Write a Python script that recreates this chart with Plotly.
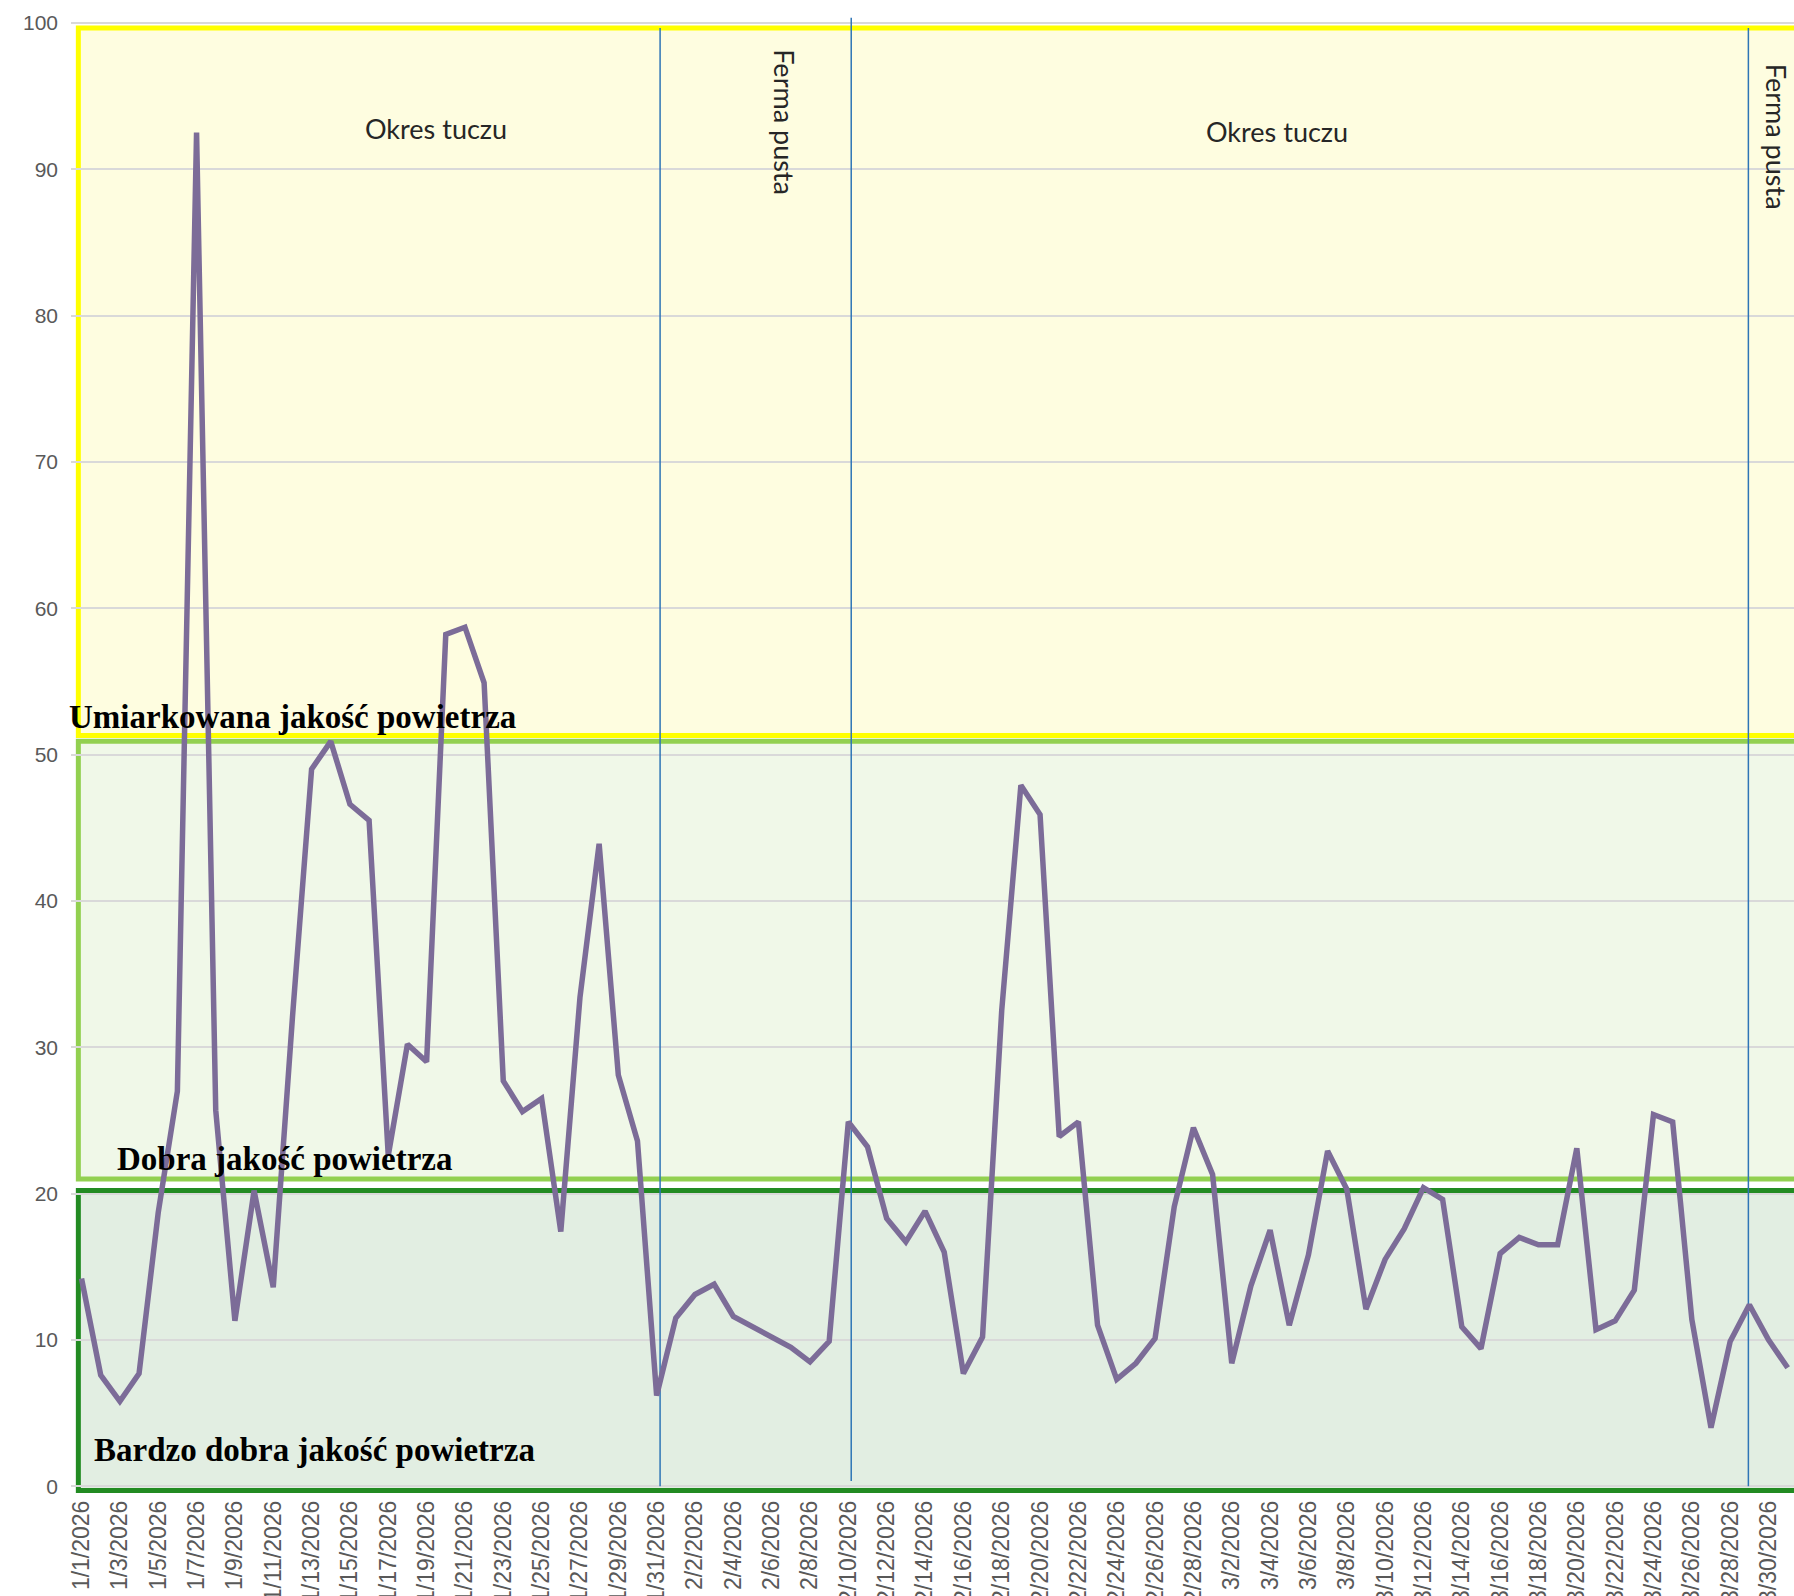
import plotly.graph_objects as go
import pandas as pd

# ---------------- data ----------------
dates = pd.date_range("2026-01-01", "2026-03-31", freq="D")
values = [14.2, 7.6, 5.8, 7.7, 18.7, 27.0, 92.5, 25.7, 11.3, 20.2,
          13.6, 32.0, 49.0, 50.9, 46.6, 45.5, 22.6, 30.2, 29.0, 58.2,
          58.7, 54.9, 27.7, 25.6, 26.5, 17.4, 33.4, 43.9, 28.1, 23.6,
          6.2, 11.5, 13.1, 13.8, 11.6, 10.9, 10.1, 9.5, 8.5, 9.9,
          24.9, 23.2, 18.3, 16.7, 18.8, 16.0, 7.7, 10.2, 32.5, 47.9,
          45.9, 23.9, 24.9, 11.0, 7.3, 8.4, 10.1, 19.1, 24.5, 21.3,
          8.4, 13.7, 17.5, 11.0, 15.8, 22.9, 20.3, 12.1, 15.5, 17.6,
          20.4, 19.6, 10.9, 9.4, 15.9, 17.0, 16.5, 16.5, 23.1, 10.7,
          11.3, 13.4, 25.4, 24.9, 11.4, 4.0, 9.9, 12.4, 10.0, 8.1]

zone_names = ["Bardzo dobra jakość powietrza", "Dobra jakość powietrza",
              "Umiarkowana jakość powietrza"]
zone_low = [-0.3, 21.0, 51.3]
zone_high = [20.2, 50.9, 99.65]
zone_start = "2025-12-31 20:00"
zone_end = "2026-04-10"
zone_label_x = ["2026-01-01 12:29", "2026-01-02 18:29", "2025-12-31 11:00"]
zone_label_y = [2.49, 22.35, 52.56]
zone_label_shift = [0, 0, -4]

event_dates = ["2026-01-31 04:19", "2026-02-10 03:36", "2026-03-28 22:48"]
event_bottoms = [0.0, 0.35, 0.0]
event_tops = [99.65, 100.35, 99.65]

period_names = ["Okres tuczu", "Ferma pusta", "Okres tuczu", "Ferma pusta"]
period_x = ["2026-01-19 11:46", "2026-02-06 16:48", "2026-03-04 08:38", "2026-03-30 10:48"]
period_y = [92.75, 93.2, 92.6, 92.2]
period_angle = [0, 90, 0, 90]

x_range = ["2025-12-31 10:48", "2026-03-31 07:55"]
y_range = [-0.6, 100.4]

# ---------------- styles ----------------
zone_line_colors = ["#228B22", "#92D050", "#FFFF00"]
zone_fill_colors = ["#E2EEE2", "#F0F8E8", "#FEFDE0"]

fig = go.Figure()

fig.add_trace(go.Scatter(
    x=dates, y=values, mode="lines",
    line=dict(color="#7C6C98", width=5.5),
    showlegend=False, hoverinfo="x+y"))

shapes = []
for lo, hi, lc, fc in zip(zone_low, zone_high, zone_line_colors, zone_fill_colors):
    shapes.append(dict(type="rect", xref="x", yref="y",
                       x0=zone_start, x1=zone_end, y0=lo, y1=hi,
                       fillcolor=fc, line=dict(color=lc, width=5),
                       layer="below"))
for d, lo, top in zip(event_dates, event_bottoms, event_tops):
    shapes.append(dict(type="line", xref="x", yref="y",
                       x0=d, x1=d, y0=lo, y1=top,
                       line=dict(color="#2E75B6", width=1.5),
                       layer="between"))

annotations = []
for name, xx, yy, sh in zip(zone_names, zone_label_x, zone_label_y, zone_label_shift):
    annotations.append(dict(x=xx, y=yy, xref="x", yref="y", text=name,
                            showarrow=False, xanchor="left", yanchor="middle",
                            xshift=sh,
                            font=dict(family="Liberation Serif", size=33,
                                      color="#000000", weight="bold")))
for name, xx, yy, ang in zip(period_names, period_x, period_y, period_angle):
    annotations.append(dict(x=xx, y=yy, xref="x", yref="y", text=name,
                            showarrow=False, xanchor="center", yanchor="middle",
                            textangle=ang,
                            font=dict(family="Lato", size=27, color="#262626")))

fig.update_layout(
    width=1794, height=1596, autosize=False,
    margin=dict(l=71, r=0, t=17, b=101),
    paper_bgcolor="white", plot_bgcolor="white",
    shapes=shapes, annotations=annotations,
    xaxis=dict(type="date", range=x_range, tick0="2026-01-01",
               dtick=2 * 86400000, tickformat="%-m/%-d/%Y", tickangle=-90,
               showgrid=False, zeroline=False, showline=False, ticks="",
               automargin=False,
               tickfont=dict(family="Liberation Sans", size=23, color="#595959")),
    yaxis=dict(range=y_range, tick0=0, dtick=10, showgrid=True,
               gridcolor="#D9D9D9", gridwidth=1.5, zeroline=False,
               showline=False, ticks="", ticklabelstandoff=12,
               automargin=False,
               tickfont=dict(family="Liberation Sans", size=21, color="#595959")),
)

fig.write_html("out.html", config={"displayModeBar": False},
               post_script="document.body.style.margin='0';document.body.style.overflow='hidden';")
